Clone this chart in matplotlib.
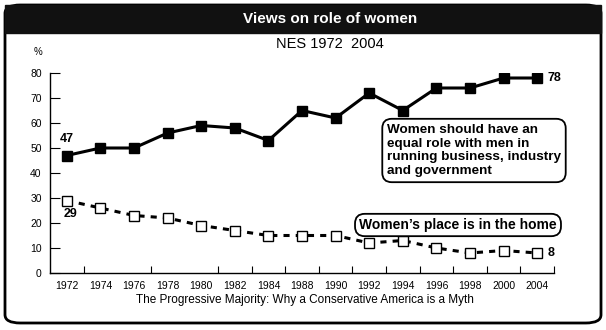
import matplotlib
matplotlib.use("Agg")
import matplotlib.pyplot as plt
from matplotlib.patches import FancyBboxPatch, Rectangle

years = ["1972", "1974", "1976", "1978", "1980", "1982", "1984", "1988",
         "1990", "1992", "1994", "1996", "1998", "2000", "2004"]
equal_role = [47, 50, 50, 56, 59, 58, 53, 65, 62, 72, 65, 74, 74, 78, 78]
home_place = [29, 26, 23, 22, 19, 17, 15, 15, 15, 12, 13, 10, 8, 9, 8]
y_ticks = [0, 10, 20, 30, 40, 50, 60, 70, 80]

plt.rcParams['font.family'] = ['Liberation Sans', 'DejaVu Sans']

W, H = 606, 330
fig = plt.figure(figsize=(W / 100, H / 100), dpi=100)

def fx(px):
    return px / W

def fy(py):
    return 1 - py / H

# outer frame
frame = FancyBboxPatch((fx(5), fy(323)), fx(596), 318 / H,
                       boxstyle="round,pad=0,rounding_size=0.025",
                       transform=fig.transFigure, fill=False, lw=2, ec='black')
fig.patches.append(frame)
# title bar
bar = Rectangle((fx(5), fy(33)), fx(596), 28 / H, transform=fig.transFigure,
                color='#111111')
fig.patches.append(bar)
fig.text(fx(330), fy(19), "Views on role of women", color='white', fontsize=11,
         fontweight='bold', ha='center', va='center')
fig.text(fx(330), fy(44), "NES 1972  2004", fontsize=10.5, ha='center', va='center')
fig.text(fx(38), fy(52), "%", fontsize=7, ha='center', va='center')
fig.text(fx(305), fy(300), "The Progressive Majority: Why a Conservative America is a Myth",
         fontsize=8.5, ha='center', va='center')

ax = fig.add_axes([fx(50), fy(273), fx(554) - fx(50), 200 / H])
x = list(range(len(years)))
ax.plot(x, equal_role, color='black', lw=2.2, marker='s', markersize=7.5,
        markerfacecolor='black', markeredgecolor='black', zorder=3)
ax.plot(x, home_place, color='black', lw=2.2, linestyle=(0, (2, 2)), marker='s',
        markersize=7, markerfacecolor='white', markeredgecolor='black',
        markeredgewidth=1, zorder=3)

ax.set_xlim(-0.5, len(years) - 0.5)
ax.set_ylim(0, 80)
for s in ['top', 'right']:
    ax.spines[s].set_visible(False)
for s in ['left', 'bottom']:
    ax.spines[s].set_linewidth(1)
ax.set_yticks(y_ticks)
ax.set_yticklabels([str(v) for v in y_ticks], fontsize=7.5)
ax.tick_params(axis='y', direction='in', length=7, pad=6)
bounds = [k - 0.5 for k in [1, 3, 5, 6, 7, 8, 9, 10, 11, 12, 13, 14, 15]]
ax.set_xticks(bounds)
ax.set_xticklabels([])
ax.tick_params(axis='x', direction='in', length=5)
for i, lab in enumerate(years):
    ax.text(i, -3.2, lab, fontsize=7.5, ha='center', va='top', clip_on=False)

ax.text(0, equal_role[0] + 4, str(equal_role[0]), fontsize=9, fontweight='bold',
        ha='center', va='bottom')
ax.text(0.1, home_place[0] - 3, str(home_place[0]), fontsize=9, fontweight='bold',
        ha='center', va='top')
ax.text(len(years) - 1 + 0.3, equal_role[-1], str(equal_role[-1]), fontsize=9,
        fontweight='bold', ha='left', va='center')
ax.text(len(years) - 1 + 0.3, home_place[-1], str(home_place[-1]), fontsize=9,
        fontweight='bold', ha='left', va='center')

fig.text(fx(474), fy(150.5),
         "Women should have an\nequal role with men in\nrunning business, industry\nand government",
         fontsize=9.7, fontweight='bold', ha='center', va='center', multialignment='left',
         linespacing=1.22,
         bbox=dict(boxstyle='round,pad=0.35,rounding_size=0.7', fc='white', ec='black', lw=1.3))
fig.text(fx(458), fy(225), "Women\u2019s place is in the home",
         fontsize=10, fontweight='bold', ha='center', va='center',
         bbox=dict(boxstyle='round,pad=0.3,rounding_size=0.7', fc='white', ec='black', lw=1.3))

fig.savefig("out.png", dpi=100)
